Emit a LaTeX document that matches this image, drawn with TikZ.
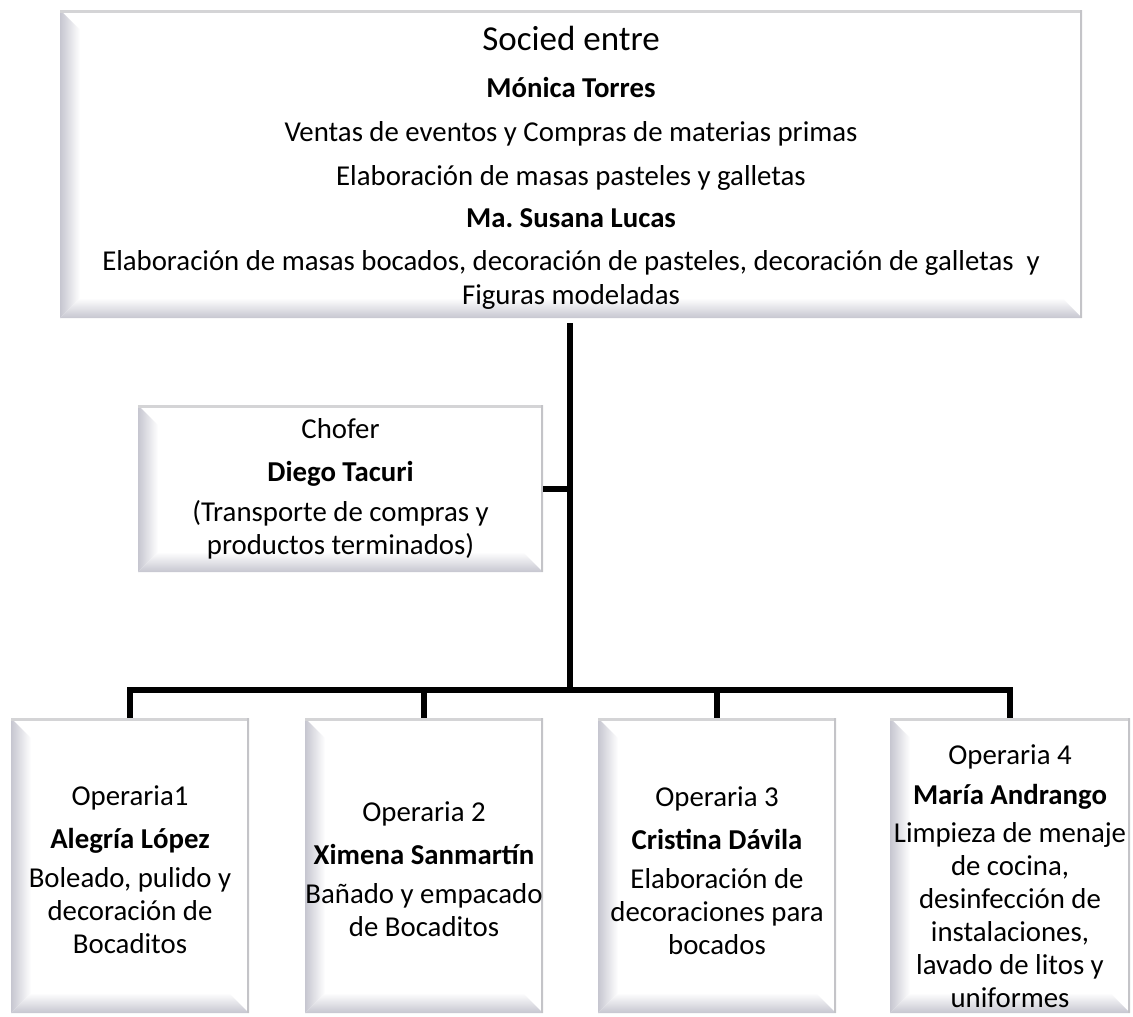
\documentclass[tikz,border=0pt]{standalone}
\usepackage{fontspec}
\setmainfont{Carlito}
\usetikzlibrary{calc}

\definecolor{bevelgray}{RGB}{198,198,208}
\definecolor{edgegray}{RGB}{212,212,214}
\definecolor{sidegray}{RGB}{196,196,200}

\tikzset{
  x=1pt, y=-1pt,
  % white box with a bevelled left and bottom edge
  bevel/.style={
    fill=white, inner sep=0pt,
    path picture={
      \coordinate (bsw) at (path picture bounding box.south west);
      \coordinate (bnw) at (path picture bounding box.north west);
      \coordinate (bse) at (path picture bounding box.south east);
      \coordinate (bne) at (path picture bounding box.north east);
      \shade[left color=bevelgray, right color=white]
        (bsw) -- (bnw) -- ($(bnw)+(20pt,-20pt)$) -- ($(bsw)+(20pt,20pt)$) -- cycle;
      \shade[bottom color=bevelgray, top color=white]
        (bsw) -- ($(bsw)+(20pt,20pt)$) -- ($(bse)+(-20pt,20pt)$) -- (bse) -- cycle;
      \draw[edgegray, line width=6pt] (bnw) -- (bne);
      \draw[sidegray, line width=5pt] (bne) -- (bse);
    }
  },
  % text block set inside a box
  txt/.style={inner sep=0pt, align=center,
    font=\fontsize{28.8}{33}\selectfont},
  conn/.style={line width=6pt, black}
}

\begin{document}
\begin{tikzpicture}
\useasboundingbox (0,0) rectangle (1133,1017);

% boxes
\node[bevel, minimum width=1022pt, minimum height=308pt] (top) at (571,164) {};
\node[bevel, minimum width=405pt, minimum height=167pt] (chofer) at (340.5,488.5) {};
\node[bevel, minimum width=238pt, minimum height=295pt] (op1) at (130,865.5) {};
\node[bevel, minimum width=238pt, minimum height=295pt] (op2) at (424,865.5) {};
\node[bevel, minimum width=238pt, minimum height=295pt] (op3) at (717,865.5) {};
\node[bevel, minimum width=240pt, minimum height=295pt] (op4) at (1010,865.5) {};

% partners
\node[txt, font=\fontsize{28.8}{34}\selectfont] (topt) at ($(top.center)+(0,4)$)
  {{\fontsize{35}{42}\selectfont Socied entre}\\[13pt]
   \textbf{Mónica Torres}\\[10pt]
   Ventas de eventos y Compras de materias primas\\[10pt]
   Elaboración de masas pasteles y galletas\\[8pt]
   \textbf{Ma.\ Susana Lucas}\\[9pt]
   Elaboración de masas bocados, decoración de pasteles, decoración de galletas\ \ y\\
   Figuras modeladas};

% driver
\node[txt] (chofert) at ($(chofer.center)+(0,0)$)
  {Chofer\\[10pt]
   \textbf{Diego Tacuri}\\[7pt]
   (Transporte de compras y\\
   productos terminados)};

% workers
\node[txt] (op1t) at ($(op1.center)+(0,4)$)
  {Operaria1\\[10pt]
   \textbf{Alegría López}\\[6pt]
   Boleado, pulido y\\
   decoración de\\
   Bocaditos};
\node[txt] (op2t) at ($(op2.center)+(0,4)$)
  {Operaria 2\\[10pt]
   \textbf{Ximena Sanmartín}\\[6pt]
   Bañado y empacado\\
   de Bocaditos};
\node[txt] (op3t) at ($(op3.center)+(0,5)$)
  {Operaria 3\\[10pt]
   \textbf{Cristina Dávila}\\[6pt]
   Elaboración de\\
   decoraciones para\\
   bocados};
\node[txt] (op4t) at ($(op4.center)+(0,11)$)
  {Operaria 4\\[7pt]
   \textbf{María Andrango}\\[5pt]
   Limpieza de menaje\\
   de cocina,\\
   desinfección de\\
   instalaciones,\\
   lavado de litos y\\
   uniformes};

% connectors
\coordinate (hub) at (570,690);
\draw[conn] ($(top.south)+(-1,5)$) -- (hub);
\draw[conn] (chofer.east) -- (chofer.east -| hub);
\draw[conn] (op1.north) -- (op1.north |- hub) -- (op4.north |- hub) -- (op4.north);
\draw[conn] (op2.north |- hub) -- (op2.north);
\draw[conn] (op3.north |- hub) -- (op3.north);
\end{tikzpicture}
\end{document}
